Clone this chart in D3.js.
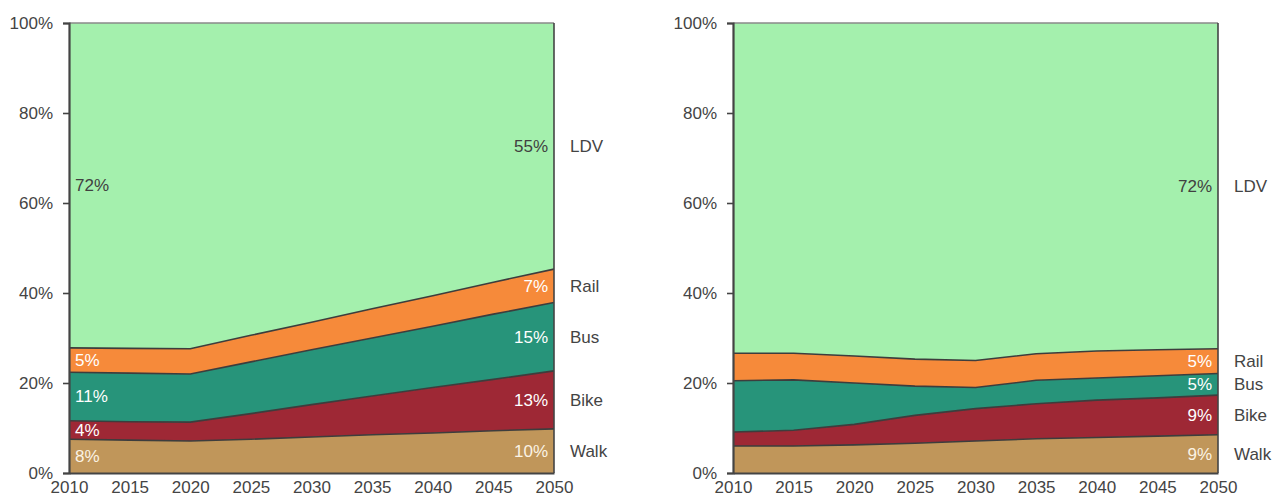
<!DOCTYPE html>
<html>
<head>
<meta charset="utf-8">
<script src="https://cdn.jsdelivr.net/npm/d3@7"></script>
<style>
  html, body { margin: 0; padding: 0; background: #fff; }
  svg { display: block; font-family: "Liberation Sans", Arial, sans-serif; }
</style>
</head>
<body>
<svg id="chart" width="1274" height="498"></svg>
<script>
// ---- data ----
const years = [2010, 2015, 2020, 2025, 2030, 2035, 2040, 2045, 2050];
const modes = ["Walk", "Bike", "Bus", "Rail", "LDV"];
const yTicks = [0, 0.2, 0.4, 0.6, 0.8, 1.0];

// Left panel (shares, %)
const leftWalk = [7.5, 7.3, 7.1, 7.5, 8.0, 8.5, 8.9, 9.4, 9.8];
const leftBike = [4.1, 4.1, 4.2, 5.7, 7.2, 8.6, 10.1, 11.4, 12.9];
const leftBus  = [10.8, 10.8, 10.7, 11.5, 12.2, 12.9, 13.6, 14.5, 15.2];
const leftRail = [5.4, 5.5, 5.6, 5.9, 6.1, 6.5, 6.8, 7.1, 7.4];
const leftLDV  = [72.2, 72.3, 72.4, 69.4, 66.5, 63.5, 60.6, 57.6, 54.7];
const leftStartLabels = ["8%", "4%", "11%", "5%", "72%"];
const leftEndLabels   = ["10%", "13%", "15%", "7%", "55%"];

// Right panel (shares, %)
const rightWalk = [6.0, 6.0, 6.25, 6.6, 7.1, 7.6, 7.9, 8.2, 8.5];
const rightBike = [3.1, 3.5, 4.55, 6.2, 7.2, 7.8, 8.3, 8.5, 8.8];
const rightBus  = [11.4, 11.2, 9.2, 6.5, 4.7, 5.2, 4.9, 4.9, 4.8];
const rightRail = [6.1, 5.9, 6.0, 6.0, 6.0, 5.9, 6.0, 5.8, 5.5];
const rightLDV  = [73.4, 73.4, 74.0, 74.7, 75.0, 73.5, 72.9, 72.6, 72.4];
const rightEndLabels = ["9%", "9%", "5%", "5%", "72%"];

const colors = ["#c0965a", "#9e2835", "#27947a", "#f68a3a", "#a4f0ad"];
const labelColors = ["#fbf3e4", "#ffffff", "#ffffff", "#ffffff", "#404040"];

function rows(series) {
  return years.map((yr, i) => {
    const r = { year: yr };
    modes.forEach((m, k) => { r[m] = series[k][i] / 100; });
    return r;
  });
}

const svg = d3.select("#chart");
const y = d3.scaleLinear().domain([0, 1]).range([473, 23]);
const FS = 17;

function panel(x0, x1, series, startLabels, endLabels) {
  const x = d3.scaleLinear().domain([2010, 2050]).range([x0, x1]);
  const data = rows(series);
  data.forEach(r => {
    const s = d3.sum(modes, m => r[m]);
    modes.forEach(m => { r[m] = r[m] / s; });
  });
  const stacked = d3.stack().keys(modes)(data);
  const area = d3.area()
    .x(d => x(d.data.year))
    .y0(d => y(d[0]))
    .y1(d => y(d[1]));

  const g = svg.append("g");
  g.selectAll("path.band")
    .data(stacked)
    .join("path")
    .attr("class", "band")
    .attr("d", area)
    .attr("fill", (d, i) => colors[i]);

  const line = d3.line().x(d => x(d.data.year)).y(d => y(d[1]));
  g.selectAll("path.edge")
    .data(stacked.slice(0, 4))
    .join("path")
    .attr("class", "edge")
    .attr("d", line)
    .attr("fill", "none")
    .attr("stroke", "#3d3d3d")
    .attr("stroke-width", 1.6);

  g.append("line").attr("x1", x0).attr("x2", x1).attr("y1", y(1)).attr("y2", y(1))
    .attr("stroke", "#8a8a8a").attr("stroke-width", 1.5);
  g.append("line").attr("x1", x1).attr("x2", x1).attr("y1", y(1)).attr("y2", y(0))
    .attr("stroke", "#444").attr("stroke-width", 1.6);

  const ya = g.append("g").attr("transform", `translate(${x0},0)`)
    .call(d3.axisLeft(y).tickValues(yTicks).tickFormat(d3.format(".0%")).tickSize(6).tickPadding(10));
  ya.select(".domain").attr("stroke", "#444").attr("stroke-width", 2.2);
  ya.selectAll(".tick line").attr("stroke", "#444").attr("stroke-width", 1.6);
  ya.selectAll(".tick text").attr("fill", "#444").attr("font-size", FS)
    .attr("font-family", "'Liberation Sans', Arial, sans-serif");

  const xa = g.append("g").attr("transform", `translate(0,${y(0)})`)
    .call(d3.axisBottom(x).tickValues(years).tickFormat(d3.format("d")).tickSize(0).tickPadding(8));
  xa.select(".domain").attr("stroke", "#444").attr("stroke-width", 2.2);
  xa.selectAll(".tick text").attr("fill", "#444").attr("font-size", FS)
    .attr("font-family", "'Liberation Sans', Arial, sans-serif");

  const last = years.length - 1;
  stacked.forEach((s, i) => {
    const d = s[last];
    const cy = y((d[0] + d[1]) / 2);
    g.append("text").attr("x", x1 - 6).attr("y", cy).attr("dy", "0.35em")
      .attr("text-anchor", "end").attr("font-size", FS).attr("fill", labelColors[i])
      .text(endLabels[i]);
    g.append("text").attr("x", x1 + 16).attr("y", cy).attr("dy", "0.35em")
      .attr("text-anchor", "start").attr("font-size", FS).attr("fill", "#444")
      .text(modes[i]);
  });
  if (startLabels) {
    stacked.forEach((s, i) => {
      const d = s[0];
      const cy = y((d[0] + d[1]) / 2);
      g.append("text").attr("x", x0 + 6).attr("y", cy).attr("dy", "0.35em")
        .attr("text-anchor", "start").attr("font-size", FS).attr("fill", labelColors[i])
        .text(startLabels[i]);
    });
  }
}

panel(69, 554, [leftWalk, leftBike, leftBus, leftRail, leftLDV], leftStartLabels, leftEndLabels);
panel(733, 1218, [rightWalk, rightBike, rightBus, rightRail, rightLDV], null, rightEndLabels);
</script>
</body>
</html>
